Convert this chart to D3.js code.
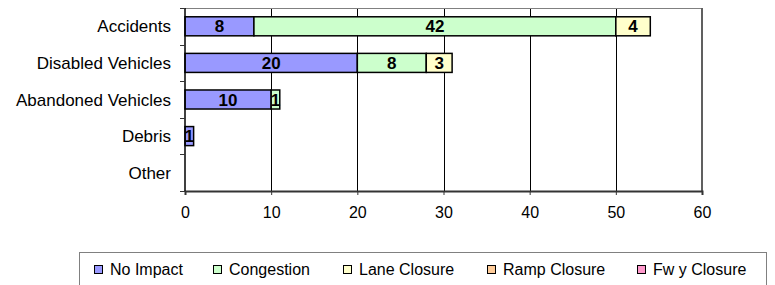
<!DOCTYPE html>
<html>
<head>
<meta charset="utf-8">
<script src="https://cdn.jsdelivr.net/npm/d3@7"></script>
<style>
body { margin: 0; background: #fff; }
text { font-family: "Liberation Sans", Arial, sans-serif; }
</style>
</head>
<body>
<div id="chart"></div>
<script>
var categories = ["Accidents", "Disabled Vehicles", "Abandoned Vehicles", "Debris", "Other"];
var seriesNames = ["No Impact", "Congestion", "Lane Closure", "Ramp Closure", "Fwy Closure"];
var seriesColors = ["#9999ff", "#ccffcc", "#ffffcc", "#ffcc99", "#ff99cc"];
var noImpact = [8, 20, 10, 1, 0];
var congestion = [42, 8, 1, 0, 0];
var laneClosure = [4, 3, 0, 0, 0];
var rampClosure = [0, 0, 0, 0, 0];
var fwyClosure = [0, 0, 0, 0, 0];
var xTicks = [0, 10, 20, 30, 40, 50, 60];
var legendLabels = ["No Impact", "Congestion", "Lane Closure", "Ramp Closure", "Fw y Closure"];

var rows = categories.map(function (c, i) {
  return { cat: c, "No Impact": noImpact[i], "Congestion": congestion[i],
           "Lane Closure": laneClosure[i], "Ramp Closure": rampClosure[i], "Fwy Closure": fwyClosure[i] };
});

var svg = d3.select("#chart").append("svg")
            .attr("width", 775)
            .attr("height", 285);

var plotLeft = 185, plotRight = 702, plotTop = 8, plotBottom = 191;

var x = d3.scaleLinear().domain([0, 60]).range([plotLeft, plotRight]);
var y = d3.scaleBand().domain(categories).range([plotTop, plotBottom]).paddingInner(0.48).paddingOuter(0.24);

// gridlines
svg.append("g").selectAll("line")
   .data(xTicks.slice(1, -1))
   .enter().append("line")
   .attr("x1", function (d) { return Math.round(x(d)) + 0.5; })
   .attr("x2", function (d) { return Math.round(x(d)) + 0.5; })
   .attr("y1", plotTop).attr("y2", plotBottom)
   .attr("stroke", "#000").attr("stroke-width", 1);

// plot frame top and right (gray)
svg.append("line").attr("x1", plotLeft).attr("x2", plotRight).attr("y1", plotTop + 0.5).attr("y2", plotTop + 0.5)
   .attr("stroke", "#808080").attr("stroke-width", 1);
svg.append("line").attr("x1", plotRight).attr("x2", plotRight).attr("y1", plotTop).attr("y2", plotBottom)
   .attr("stroke", "#606060").attr("stroke-width", 2);

var stack = d3.stack().keys(seriesNames)(rows);

var layers = svg.append("g").selectAll("g")
   .data(stack)
   .enter().append("g")
   .attr("fill", function (d, i) { return seriesColors[i]; });

layers.selectAll("rect")
   .data(function (d) { return d.filter(function (s) { return s[1] - s[0] > 0; }); })
   .enter().append("rect")
   .attr("x", function (d) { return x(d[0]); })
   .attr("y", function (d) { return y(d.data.cat); })
   .attr("width", function (d) { return x(d[1]) - x(d[0]); })
   .attr("height", y.bandwidth())
   .attr("stroke", "#000").attr("stroke-width", 1.5);

layers.selectAll("text")
   .data(function (d) { return d.filter(function (s) { return s[1] - s[0] > 0; }); })
   .enter().append("text")
   .attr("x", function (d) { return (x(d[0]) + x(d[1])) / 2; })
   .attr("y", function (d) { return y(d.data.cat) + y.bandwidth() / 2; })
   .attr("dy", "0.36em")
   .attr("text-anchor", "middle")
   .attr("fill", "#000")
   .style("font-size", "17px").style("font-weight", "bold")
   .text(function (d) { return d[1] - d[0]; });

// x axis
var xAxis = svg.append("g")
   .attr("transform", "translate(0," + plotBottom + ")")
   .call(d3.axisBottom(x).tickValues(xTicks).tickSize(4).tickPadding(12));
xAxis.select(".domain").attr("stroke", "#333").attr("stroke-width", 2);
xAxis.selectAll("line").attr("stroke", "#333");
xAxis.selectAll("text").style("font-size", "16px").attr("fill", "#000")
   .style("font-family", "'Liberation Sans', Arial, sans-serif");

// y axis
var yTickPos = d3.range(categories.length + 1).map(function (i) { return plotTop + i * (plotBottom - plotTop) / categories.length; });
svg.append("line").attr("x1", plotLeft).attr("x2", plotLeft).attr("y1", plotTop).attr("y2", plotBottom)
   .attr("stroke", "#000").attr("stroke-width", 1.5);
svg.append("g").selectAll("line")
   .data(yTickPos)
   .enter().append("line")
   .attr("x1", plotLeft - 5).attr("x2", plotLeft)
   .attr("y1", function (d) { return Math.round(d) + 0.5; }).attr("y2", function (d) { return Math.round(d) + 0.5; })
   .attr("stroke", "#333").attr("stroke-width", 1);
svg.append("g").selectAll("text")
   .data(categories)
   .enter().append("text")
   .attr("x", 171)
   .attr("y", function (d) { return y(d) + y.bandwidth() / 2; })
   .attr("dy", "0.36em")
   .attr("text-anchor", "end")
   .style("font-size", "17px")
   .text(function (d) { return d; });

// legend
svg.append("rect").attr("x", 79.5).attr("y", 252.5).attr("width", 687).attr("height", 40)
   .attr("fill", "#fff").attr("stroke", "#808080").attr("stroke-width", 1);
var legendX = [94, 213, 343, 487, 637];
var leg = svg.append("g").selectAll("g")
   .data(legendLabels)
   .enter().append("g")
   .attr("transform", function (d, i) { return "translate(" + legendX[i] + ",265)"; });
leg.append("rect").attr("x", 0.5).attr("y", 0.5).attr("width", 8).attr("height", 8)
   .attr("fill", function (d, i) { return seriesColors[i]; })
   .attr("stroke", "#000").attr("stroke-width", 1);
leg.append("text").attr("x", 16).attr("y", 4.5).attr("dy", "0.36em")
   .style("font-size", "16px")
   .text(function (d) { return d; });
</script>
</body>
</html>
